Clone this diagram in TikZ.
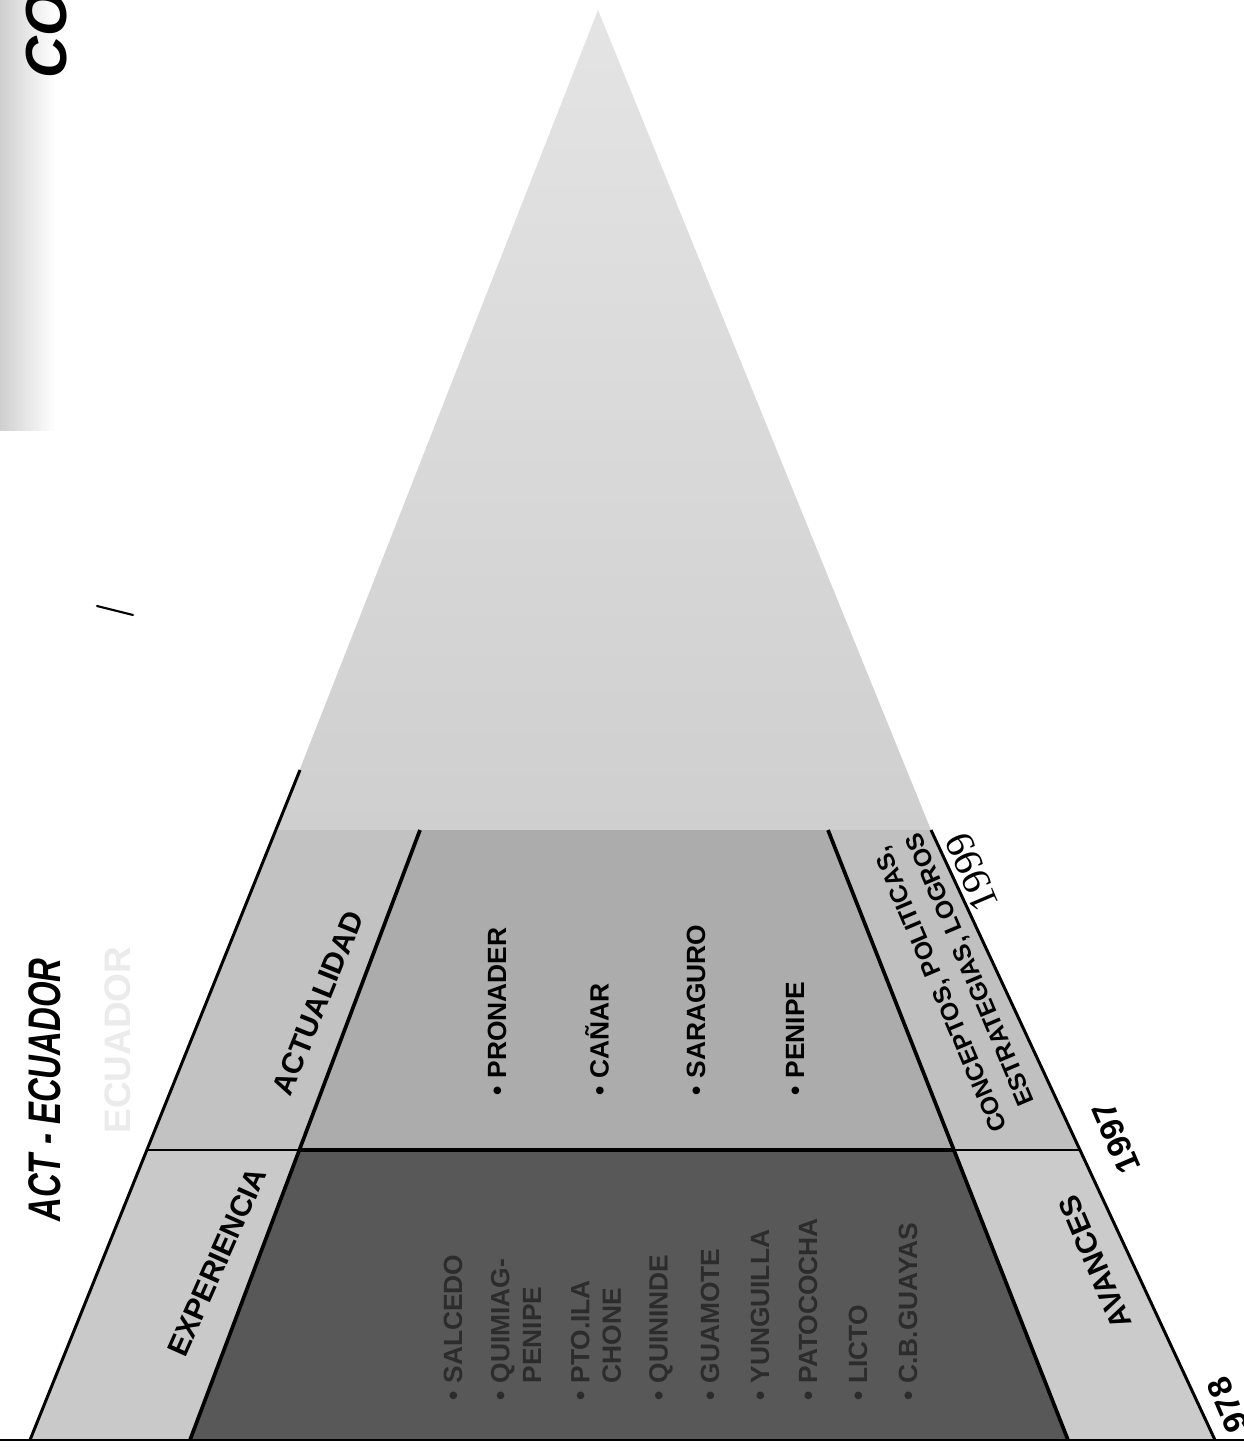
\documentclass[tikz,border=0pt]{standalone}
\usepackage{fontspec}
\setmainfont{Liberation Sans}
\newfontfamily\yearfont{Liberation Serif}
\definecolor{toplight}{HTML}{E4E4E4}
\definecolor{topdark}{HTML}{CFCFCF}
\definecolor{bandact}{HTML}{C2C2C2}
\definecolor{bandexp}{HTML}{C9C9C9}
\definecolor{midgray}{HTML}{ACACAC}
\definecolor{regiondark}{HTML}{585858}
\definecolor{bandcon}{HTML}{C0C0C0}
\definecolor{bandava}{HTML}{CBCBCB}
\definecolor{darktext}{HTML}{2C2C2C}
\definecolor{ghost}{HTML}{EBEBEB}
\definecolor{stripgray}{HTML}{CFCFCF}
\begin{document}
\begin{tikzpicture}[x=0.02cm,y=-0.02cm,
  every node/.style={inner sep=0pt, outer sep=0pt},
  bandlbl/.style={font=\bfseries\fontsize{17}{19}\selectfont},
  listitem/.style={font=\bfseries\fontsize{15}{18}\selectfont, rotate=90, anchor=west, align=left},
  darkitem/.style={listitem, text=darktext},
  rlbl/.style={font=\bfseries\fontsize{14}{20}\selectfont, rotate=113, align=right},
  yearlbl/.style={font=\bfseries\fontsize{19}{19}\selectfont, rotate=113},
  outerline/.style={line width=1.7pt},
  innerline/.style={line width=2.1pt},
]
\useasboundingbox (0,0) rectangle (1244,1451);
\fill[white] (0,0) rectangle (1244,1451);

% corner coordinates
\coordinate (apex) at (598,10);
\coordinate (oltop) at (300,770);
\coordinate (ol1) at (276,830);
\coordinate (il1) at (420,830);
\coordinate (ir1) at (828,830);
\coordinate (or1) at (931,830);
\coordinate (ol2) at (147,1150);
\coordinate (il2) at (299,1150);
\coordinate (ir2) at (954,1150);
\coordinate (or2) at (1080,1150);
\coordinate (ol3) at (30,1440);
\coordinate (il3) at (190,1440);
\coordinate (ir3) at (1068,1440);
\coordinate (or3) at (1215,1440);
\coordinate (bl) at (0,1440);
\coordinate (br) at (1244,1440);

% left stipple strip
\shade[left color=stripgray, right color=white] (0,0) rectangle (55,430);

% regions
\shade[top color=toplight, bottom color=topdark] (apex) -- (ol1) -- (or1) -- cycle;
\fill[bandact] (ol1) -- (il1) -- (il2) -- (ol2) -- cycle;
\fill[bandexp] (ol2) -- (il2) -- (il3) -- (ol3) -- cycle;
\fill[midgray] (il1) -- (ir1) -- (ir2) -- (il2) -- cycle;
\fill[regiondark] (il2) -- (ir2) -- (ir3) -- (il3) -- cycle;
\fill[bandcon] (ir1) -- (or1) -- (or2) -- (ir2) -- cycle;
\fill[bandava] (ir2) -- (or2) -- (or3) -- (ir3) -- cycle;

% lines
\draw[outerline] (oltop) -- (ol3);
\draw[innerline] (il1) -- (il3);
\draw[innerline] (ir1) -- (ir3);
\draw[outerline] (or1) -- (or3);
\draw[line width=0.8pt] (ol2) -- (il2);
\draw[line width=0.8pt] (ir2) -- (or2);
\draw[line width=2.2pt] (il2) -- (ir2);
\draw[line width=1.5pt] (bl) -- (br);
\draw[line width=1.2pt, line cap=round] (97,606) -- (133,615);

% titles
\node[font=\bfseries\itshape\fontsize{33}{33}\selectfont, rotate=90, anchor=base west] (co) at (66,78) {CO};
\node[font=\bfseries\itshape\fontsize{26}{26}\selectfont, rotate=90] (title) at (45,1090) {\scalebox{0.72}[1]{ACT - ECUADOR}};
\node[font=\bfseries\fontsize{21}{21}\selectfont, rotate=90, text=ghost] (ghostlbl) at (118,1040) {ECUADOR};

% band labels
\node[bandlbl, rotate=66] (exp) at (217,1262) {EXPERIENCIA};
\node[bandlbl, rotate=68] (act) at (318,1003) {ACTUALIDAD};

% middle list
\node[listitem] (pronader) at (497,1095) {\textbullet\ PRONADER};
\node[listitem] (canar) at (597,1095) {\textbullet\ CAÑAR};
\node[listitem] (saraguro) at (696,1095) {\textbullet\ SARAGURO};
\node[listitem] (penipe) at (795,1095) {\textbullet\ PENIPE};

% dark list
\node[darkitem] (salcedo) at (453,1400) {\textbullet\ SALCEDO};
\node[darkitem] (quimiag) at (516,1400) {\textbullet\ QUIMIAG-\\\phantom{\textbullet\ }PENIPE};
\node[darkitem] (ptoila) at (596,1400) {\textbullet\ PTO.ILA\\\phantom{\textbullet\ }CHONE};
\node[darkitem] (quininde) at (661,1400) {\textbullet\ QUININDE};
\node[darkitem] (guamote) at (710,1400) {\textbullet\ GUAMOTE};
\node[darkitem] (yunguilla) at (760,1400) {\textbullet\ YUNGUILLA};
\node[darkitem] (patococha) at (808,1400) {\textbullet\ PATOCOCHA};
\node[darkitem] (licto) at (858,1400) {\textbullet\ LICTO};
\node[darkitem] (cbguayas) at (908,1400) {\textbullet\ C.B.GUAYAS};

% right band
\node[rlbl] (concept) at (958,982) {CONCEPTOS, POLITICAS,\\ESTRATEGIAS, LOGROS};
\node[font=\yearfont\fontsize{23}{23}\selectfont, rotate=113] (y1999) at (972,872) {1999};
\node[yearlbl] (y1997) at (1116,1138) {1997};
\node[bandlbl, rotate=113] (avances) at (1095,1262) {AVANCES};
\node[yearlbl] (y1978) at (1228,1405) {978};
\end{tikzpicture}
\end{document}
